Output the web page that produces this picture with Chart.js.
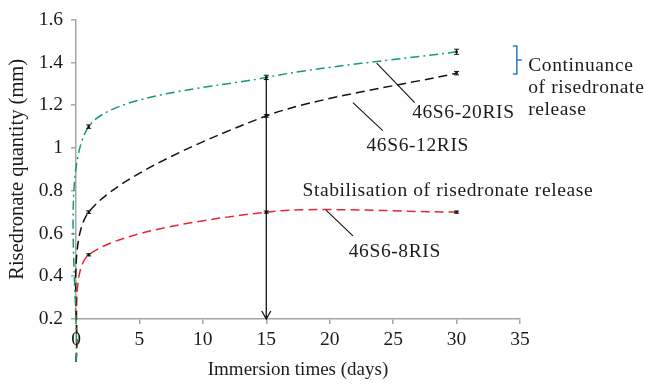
<!DOCTYPE html>
<html lang="en">
  <head>
    <meta charset="UTF-8" />
    <title>Risedronate release</title>
    <script src="https://cdn.jsdelivr.net/npm/chart.js"></script>
    <style>
      body { margin: 0; background: #fff; }
    </style>
  </head>

  <body>
    <canvas id="releaseChart" width="645" height="385"></canvas>

    <script>
      // immersion time (days) and released quantity (mm)
      const days = [0, 1, 15, 30];
      const ris20 = [0, 1.1, 1.33, 1.45];
      const ris12 = [0, 0.7, 1.15, 1.35];
      const ris8 = [0, 0.5, 0.7, 0.7];

      // error bar half heights
      const err20 = [0, 0.008, 0.01, 0.012];
      const err12 = [0, 0.006, 0.006, 0.008];
      const err8 = [0, 0.005, 0.005, 0.005];

      const seriesNames = ["46S6-20RIS", "46S6-12RIS", "46S6-8RIS"];

      const xTicks = [0, 5, 10, 15, 20, 25, 30, 35];
      const yTicks = [0.2, 0.4, 0.6, 0.8, 1, 1.2, 1.4, 1.6];

      const textColor = "#1d1a1b";
      const axisColor = "#a6a6a6";
      const fontFamily = "'Liberation Serif', 'Times New Roman', serif";

      Chart.defaults.font.family = fontFamily;
      Chart.defaults.font.size = 19;
      Chart.defaults.color = textColor;

      const toPoints = (ys) => days.map((d, i) => ({ x: d, y: ys[i] }));

      const makeSet = (label, ys, errs, color, dash) => ({
        label: label,
        data: toPoints(ys),
        errors: errs,
        borderColor: color,
        borderWidth: 1.5,
        borderDash: dash,
        tension: 0.26,
        capBezierPoints: false,
        clip: false,
        fill: false,
        pointStyle: "rect",
        pointRadius: days.map((d) => (d === 0 ? 0 : 1.7)),
        pointBackgroundColor: "#111",
        pointBorderWidth: 0,
      });

      // notes, in data units
      const leaders = [
        { from: [23.7, 1.397], to: [26.7, 1.212] },
        { from: [21.83, 1.212], to: [24.18, 1.081] },
        { from: [19.71, 0.709], to: [21.83, 0.589] },
      ];
      const labels = [
        { text: seriesNames[0], x: 26.5, y: 1.166 },
        { text: seriesNames[1], x: 22.9, y: 1.012 },
        { text: seriesNames[2], x: 21.5, y: 0.515 },
        { text: "Stabilisation of risedronate release", x: 17.85, y: 0.801 },
        { text: "Continuance", x: 35.65, y: 1.383 },
        { text: "of risedronate", x: 35.65, y: 1.281 },
        { text: "release", x: 35.65, y: 1.18 },
      ];
      const arrowAt = { x: 15, from: 1.33, to: 0.2 };
      const bracket = { x: 34.75, top: 1.477, bottom: 1.346 };

      const notesPlugin = {
        id: "notes",
        afterDatasetsDraw(chart) {
          const { ctx, scales } = chart;
          const X = (v) => scales.x.getPixelForValue(v);
          const Y = (v) => scales.y.getPixelForValue(v);
          ctx.save();

          // error bars
          ctx.strokeStyle = "#111";
          ctx.lineWidth = 1;
          chart.data.datasets.forEach((ds) => {
            ds.data.forEach((p, i) => {
              const e = ds.errors[i];
              if (!e) return;
              const px = X(p.x);
              const y1 = Y(p.y + e);
              const y2 = Y(p.y - e);
              ctx.beginPath();
              ctx.moveTo(px, y1);
              ctx.lineTo(px, y2);
              ctx.moveTo(px - 2.5, y1);
              ctx.lineTo(px + 2.5, y1);
              ctx.moveTo(px - 2.5, y2);
              ctx.lineTo(px + 2.5, y2);
              ctx.stroke();
            });
          });

          // vertical arrow
          const ax = X(arrowAt.x);
          const ay = Y(arrowAt.to);
          ctx.strokeStyle = "#111";
          ctx.lineWidth = 1.3;
          ctx.beginPath();
          ctx.moveTo(ax, Y(arrowAt.from));
          ctx.lineTo(ax, ay);
          ctx.moveTo(ax - 4.5, ay - 8);
          ctx.lineTo(ax, ay);
          ctx.lineTo(ax + 4.5, ay - 8);
          ctx.stroke();

          // leader lines
          ctx.lineWidth = 1.1;
          leaders.forEach((l) => {
            ctx.beginPath();
            ctx.moveTo(X(l.from[0]), Y(l.from[1]));
            ctx.lineTo(X(l.to[0]), Y(l.to[1]));
            ctx.stroke();
          });

          // bracket
          const bx = X(bracket.x);
          const bt = Y(bracket.top);
          const bb = Y(bracket.bottom);
          ctx.strokeStyle = "#3a7cc8";
          ctx.lineWidth = 1.6;
          ctx.beginPath();
          ctx.moveTo(bx - 4, bt);
          ctx.lineTo(bx, bt);
          ctx.lineTo(bx, bb);
          ctx.lineTo(bx - 4, bb);
          ctx.moveTo(bx, (bt + bb) / 2);
          ctx.lineTo(bx + 5, (bt + bb) / 2);
          ctx.stroke();

          // text
          ctx.fillStyle = textColor;
          ctx.font = "19.5px " + fontFamily;
          ctx.letterSpacing = "0.6px";
          ctx.textAlign = "left";
          ctx.textBaseline = "middle";
          labels.forEach((t) => {
            ctx.fillText(t.text, X(t.x), Y(t.y));
          });

          ctx.restore();
        },
      };

      new Chart(document.getElementById("releaseChart"), {
        type: "line",
        data: {
          datasets: [
            makeSet(seriesNames[0], ris20, err20, "#14a05c", [9, 4, 2, 4]),
            makeSet(seriesNames[1], ris12, err12, "#111111", [9, 5]),
            makeSet(seriesNames[2], ris8, err8, "#e8262e", [9, 5]),
          ],
        },
        options: {
          responsive: false,
          animation: false,
          devicePixelRatio: 1,
          layout: { padding: { top: 16, right: 125, left: 0, bottom: 0 } },
          plugins: {
            legend: { display: false },
            tooltip: { enabled: false },
          },
          scales: {
            x: {
              type: "linear",
              min: 0,
              max: 35,
              afterBuildTicks: (s) => {
                s.ticks = xTicks.map((v) => ({ value: v }));
              },
              afterFit: (s) => {
                s.height = 66;
              },
              ticks: { padding: 4, font: { size: 19.5 } },
              grid: {
                drawOnChartArea: false,
                tickLength: 5,
                color: axisColor,
                lineWidth: 1.5,
              },
              border: { color: axisColor, width: 1.5 },
              title: {
                display: true,
                text: "Immersion times (days)",
                padding: { top: 4, bottom: 4 },
              },
            },
            y: {
              min: 0.2,
              max: 1.6,
              afterBuildTicks: (s) => {
                s.ticks = yTicks.map((v) => ({ value: v }));
              },
              afterFit: (s) => {
                s.width = 76;
              },
              ticks: { padding: 8, font: { size: 19.5 }, callback: (v) => String(v) },
              grid: {
                drawOnChartArea: false,
                tickLength: 5,
                color: axisColor,
                lineWidth: 1.5,
              },
              border: { color: axisColor, width: 1.5 },
              title: {
                display: true,
                text: "Risedronate quantity (mm)",
                font: { size: 20.5 },
                padding: { top: 5, bottom: 0 },
              },
            },
          },
        },
        plugins: [notesPlugin],
      });
    </script>
  </body>
</html>
